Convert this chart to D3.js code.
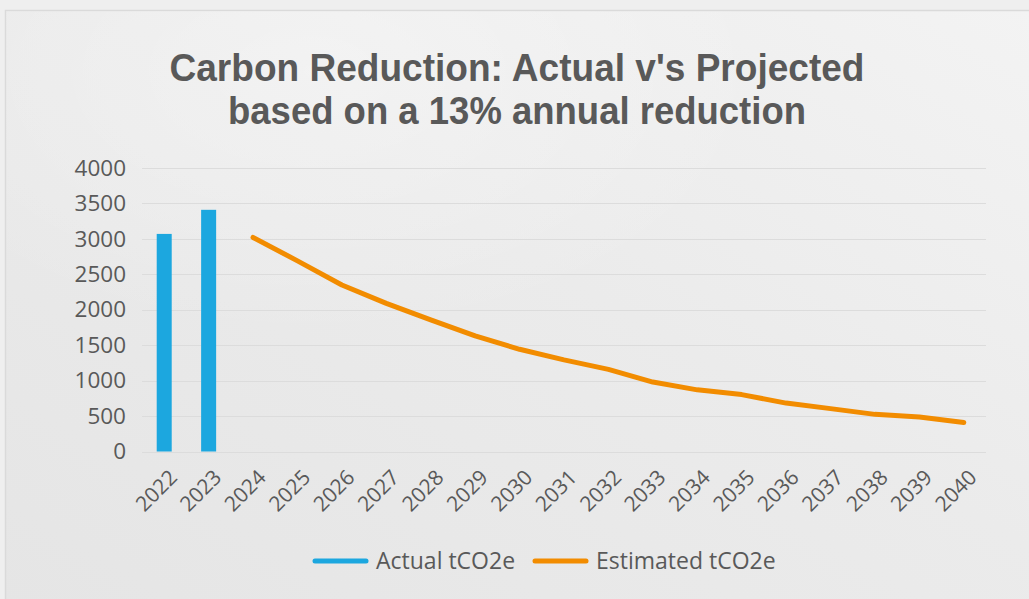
<!DOCTYPE html>
<html>
<head>
<meta charset="utf-8">
<script src="https://cdn.jsdelivr.net/npm/d3@7/dist/d3.min.js"></script>
<style>
  html, body { margin: 0; padding: 0; background: #ececec; }
  svg { display: block; }
</style>
</head>
<body>
<svg id="chart" width="1029" height="599"></svg>
<script>
// Years on the category axis
const years = ["2022","2023","2024","2025","2026","2027","2028","2029","2030",
               "2031","2032","2033","2034","2035","2036","2037","2038","2039","2040"];
// Measured emissions (tCO2e)
const actualYears = ["2022","2023"];
const actualValues = [3070, 3410];
// Projected emissions at a 13% annual reduction (tCO2e)
const estimatedYears = ["2024","2025","2026","2027","2028","2029","2030","2031","2032",
                        "2033","2034","2035","2036","2037","2038","2039","2040"];
const estimatedValues = [3020, 2690, 2350, 2090, 1856, 1630, 1442, 1293, 1159,
                         980, 870, 803, 683, 605, 524, 486, 410];
const yTicks = [0, 500, 1000, 1500, 2000, 2500, 3000, 3500, 4000];
const titleLines = ["Carbon Reduction: Actual v's Projected", "based on a 13% annual reduction"];
const legendItems = ["Actual tCO2e", "Estimated tCO2e"];

const W = 1029, H = 599;
const blue = "#1ca7df", orange = "#f28c00", textGrey = "#595959";
const font = "'Open Sans', sans-serif";
const svg = d3.select("#chart");

// Background panel with a soft light sheen
const defs = svg.append("defs");
const g1 = defs.append("linearGradient").attr("id", "bg")
  .attr("x1", "100%").attr("y1", "0%").attr("x2", "0%").attr("y2", "100%");
g1.append("stop").attr("offset", "0%").attr("stop-color", "#f3f3f3");
g1.append("stop").attr("offset", "45%").attr("stop-color", "#ebebeb");
g1.append("stop").attr("offset", "100%").attr("stop-color", "#e5e5e5");
const g2 = defs.append("radialGradient").attr("id", "glow")
  .attr("cx", "30%").attr("cy", "10%").attr("r", "45%");
g2.append("stop").attr("offset", "0%").attr("stop-color", "#ffffff").attr("stop-opacity", 0.35);
g2.append("stop").attr("offset", "100%").attr("stop-color", "#ffffff").attr("stop-opacity", 0);

svg.append("rect").attr("width", W).attr("height", H).attr("fill", "#efefef");
svg.append("rect").attr("x", 5.5).attr("y", 10.5).attr("width", W).attr("height", H)
  .attr("fill", "url(#bg)").attr("stroke", "#dadada").attr("stroke-width", 1.5);
svg.append("rect").attr("x", 6).attr("y", 11).attr("width", W).attr("height", H)
  .attr("fill", "url(#glow)");

// Scales
const plot = { left: 142, right: 986, top: 168, bottom: 451.5 };
const x = d3.scaleBand().domain(years).range([plot.left, plot.right]).paddingInner(0).paddingOuter(0);
const y = d3.scaleLinear().domain([0, 4000]).range([plot.bottom, plot.top]);

// Gridlines
svg.append("g").selectAll("line").data(yTicks).join("line")
  .attr("x1", plot.left).attr("x2", plot.right)
  .attr("y1", d => Math.round(y(d)) + 0.5).attr("y2", d => Math.round(y(d)) + 0.5)
  .attr("stroke", "#dcdcdc").attr("stroke-width", 1.2);

// Y axis labels
const yAxis = d3.axisLeft(y).tickValues(yTicks).tickFormat(d3.format("d")).tickSize(0).tickPadding(0);
const yg = svg.append("g").attr("transform", `translate(${plot.left - 16},0)`).call(yAxis);
yg.select(".domain").remove();
yg.selectAll("text").attr("fill", textGrey)
  .style("font-family", font).style("font-size", "22.5px");

// X axis labels (rotated)
const xAxis = d3.axisBottom(x).tickSize(0).tickPadding(0);
const xg = svg.append("g").attr("transform", `translate(0,${plot.bottom})`).call(xAxis);
xg.select(".domain").remove();
xg.selectAll("text")
  .attr("fill", textGrey)
  .style("font-family", font).style("font-size", "21px")
  .attr("text-anchor", "end")
  .attr("dy", "0.35em")
  .attr("transform", "translate(9,22) rotate(-45)");

// Actual bars
const barW = 15;
svg.append("g").selectAll("rect").data(actualYears.map((d, i) => ({ year: d, v: actualValues[i] })))
  .join("rect")
  .attr("x", d => x(d.year) + x.bandwidth() / 2 - barW / 2)
  .attr("width", barW)
  .attr("y", d => y(d.v))
  .attr("height", d => y(0) - y(d.v))
  .attr("fill", blue);

// Estimated line
const line = d3.line().x(d => x(d.year) + x.bandwidth() / 2).y(d => y(d.v));
svg.append("path")
  .datum(estimatedYears.map((d, i) => ({ year: d, v: estimatedValues[i] })))
  .attr("d", line)
  .attr("fill", "none").attr("stroke", orange).attr("stroke-width", 5)
  .attr("stroke-linecap", "round").attr("stroke-linejoin", "round");

// Title: one text block, two condensed lines
const titleWidths = [695, 578];
const title = svg.append("text")
  .attr("text-anchor", "middle")
  .attr("fill", textGrey)
  .style("font-family", "'Liberation Sans', Arial, sans-serif").style("font-weight", 700)
  .style("font-size", "38px");
title.selectAll("tspan").data(titleLines).join("tspan")
  .attr("x", 517).attr("y", (d, i) => 81 + i * 43)
  .attr("textLength", (d, i) => titleWidths[i])
  .attr("lengthAdjust", "spacingAndGlyphs")
  .text(d => d);

// Legend
const legendColors = [blue, orange];
const legendX = [313, 533];
const lg = svg.append("g").selectAll("g").data(legendItems).join("g")
  .attr("transform", (d, i) => `translate(${legendX[i]},561)`);
lg.append("line").attr("x1", 2).attr("x2", 53).attr("y1", 0).attr("y2", 0)
  .attr("stroke", (d, i) => legendColors[i]).attr("stroke-width", 5).attr("stroke-linecap", "round");
lg.append("text").attr("x", 63).attr("y", 0).attr("dy", "0.35em")
  .attr("fill", textGrey)
  .style("font-family", font).style("font-size", "23px")
  .text(d => d);
</script>
</body>
</html>
